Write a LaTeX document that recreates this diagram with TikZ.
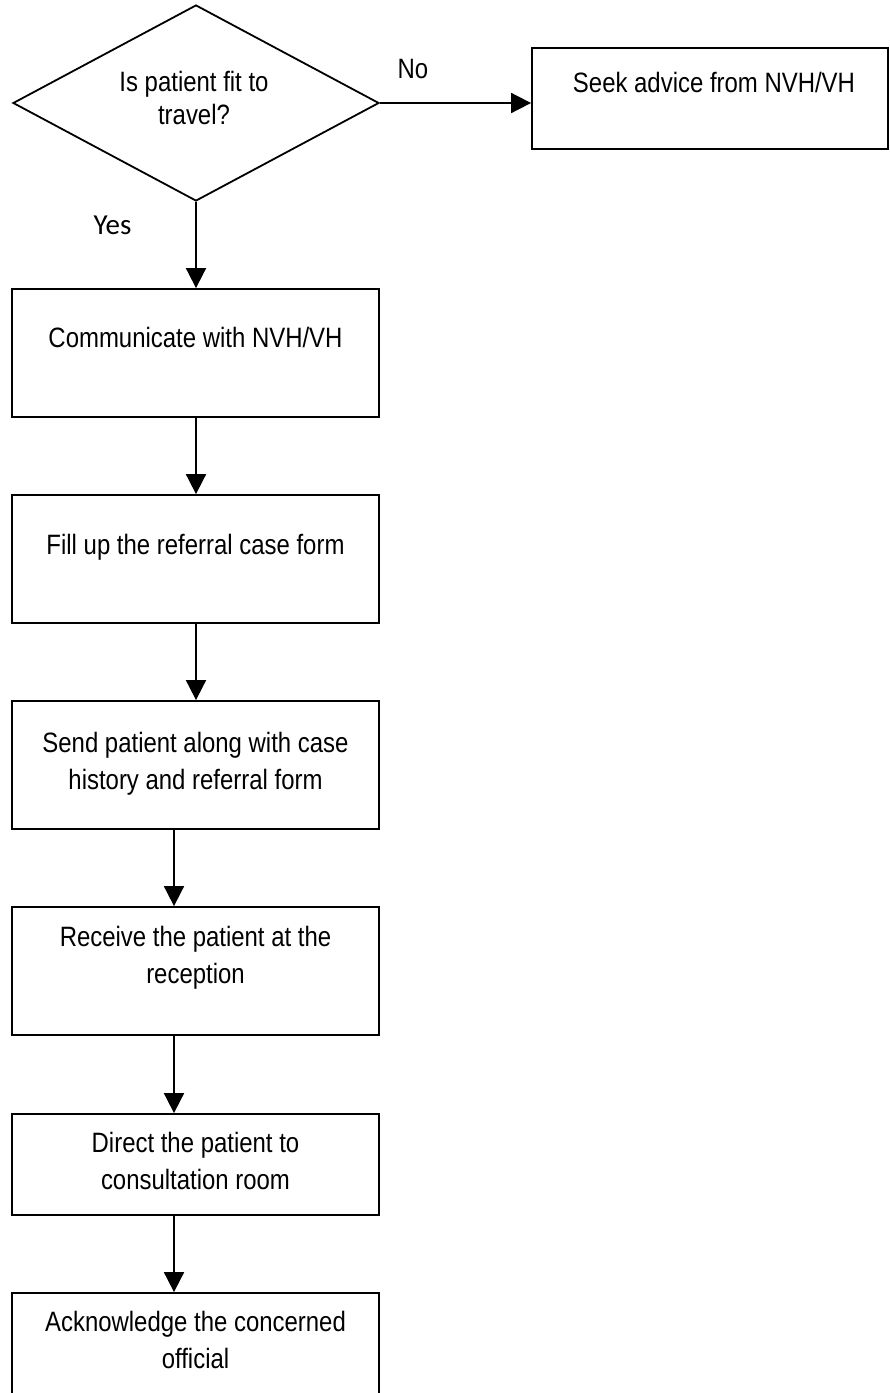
\documentclass[tikz,border=0pt]{standalone}
\usepackage{fontspec}
\setmainfont{Liberation Sans}[FakeStretch=0.855]
\newfontfamily\yesfont{Carlito}
\usetikzlibrary{shapes.geometric,arrows.meta,calc}
\newcommand\mylines[1]{\begin{tabular}[t]{@{}c@{}}#1\end{tabular}}
\begin{document}
\begin{tikzpicture}[x=1pt,y=-1pt,
  line width=1.8pt,
  box/.style={draw=black, rectangle, inner sep=0pt, minimum width=367pt},
  dia/.style={draw=black, diamond, inner sep=0pt, aspect=1.87, minimum width=366pt, minimum height=196pt},
  txt/.style={anchor=base, inner sep=0pt, font=\fontsize{28}{37.5}\selectfont},
  arr/.style={-{Triangle[length=20pt,width=20pt]}}]
\clip (0,0) rectangle (890,1393);
\fill[white] (0,0) rectangle (890,1393);

\node[dia] (d) at (196,103) {};
\node[txt, font=\fontsize{28}{33}\selectfont] (dt) at (194,91) {\mylines{Is patient fit to\\travel?}};

\node[box, minimum width=356pt, minimum height=101pt] (s) at (710,98.5) {};
\node[txt] (st) at (714,92) {Seek advice from NVH/VH};

\node[box, minimum height=128pt] (b1) at (195.5,353) {};
\node[txt] (t1) at (195.5,347) {Communicate with NVH/VH};

\node[box, minimum height=128pt] (b2) at (195.5,559) {};
\node[txt] (t2) at (195.5,554) {Fill up the referral case form};

\node[box, minimum height=128pt] (b3) at (195.5,765) {};
\node[txt] (t3) at (195.5,752) {\mylines{Send patient along with case\\history and referral form}};

\node[box, minimum height=128pt] (b4) at (195.5,971) {};
\node[txt] (t4) at (195.5,946) {\mylines{Receive the patient at the\\reception}};

\node[box, minimum height=101pt] (b5) at (195.5,1164.5) {};
\node[txt] (t5) at (195.5,1152) {\mylines{Direct the patient to\\consultation room}};

\node[box, minimum height=130pt] (b6) at (195.5,1358) {};
\node[txt] (t6) at (195.5,1331) {\mylines{Acknowledge the concerned\\official}};

\node[txt] (no) at (413,78) {No};
\node[txt, font=\yesfont\fontsize{29}{33}\selectfont] (yes) at (112.5,234) {Yes};

\draw[arr] (d.east) -- (d.east -| s.west);
\draw[arr] (d.south) -- (d.south |- b1.north);
\draw[arr] (d.south |- b1.south) -- (d.south |- b2.north);
\draw[arr] (d.south |- b2.south) -- (d.south |- b3.north);
\draw[arr] ([xshift=-21.5pt]b3.south) -- ([xshift=-21.5pt]b4.north);
\draw[arr] ([xshift=-21.5pt]b4.south) -- ([xshift=-21.5pt]b5.north);
\draw[arr] ([xshift=-21.5pt]b5.south) -- ([xshift=-21.5pt]b6.north);
\end{tikzpicture}
\end{document}
